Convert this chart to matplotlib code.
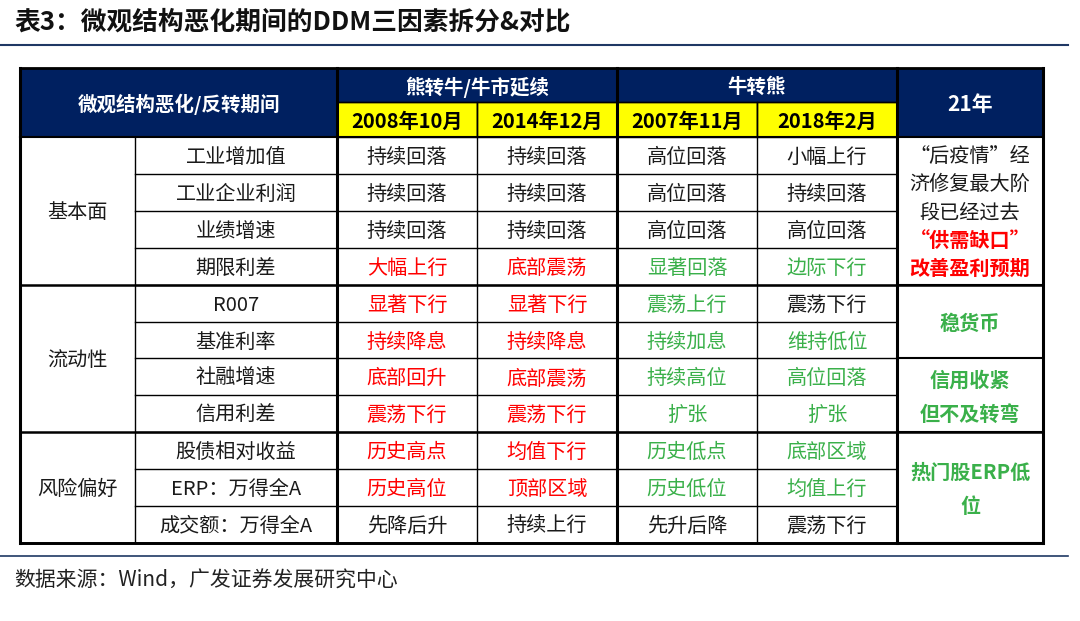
import matplotlib.pyplot as plt
from matplotlib.patches import Rectangle

plt.rcParams['font.family'] = ['Noto Sans CJK SC', 'DejaVu Sans']

title = "表3：微观结构恶化期间的DDM三因素拆分&对比"
source = "数据来源：Wind，广发证券发展研究中心"
corner = "微观结构恶化/反转期间"
phases = ["熊转牛/牛市延续", "牛转熊"]
periods = ["2008年10月", "2014年12月", "2007年11月", "2018年2月"]
last_head = "21年"

groups = ["基本面", "流动性", "风险偏好"]
group_sizes = [4, 4, 3]
items = ["工业增加值", "工业企业利润", "业绩增速", "期限利差",
         "R007", "基准利率", "社融增速", "信用利差",
         "股债相对收益", "ERP：万得全A", "成交额：万得全A"]
cells = [
    ["持续回落", "持续回落", "高位回落", "小幅上行"],
    ["持续回落", "持续回落", "高位回落", "持续回落"],
    ["持续回落", "持续回落", "高位回落", "高位回落"],
    ["大幅上行", "底部震荡", "显著回落", "边际下行"],
    ["显著下行", "显著下行", "震荡上行", "震荡下行"],
    ["持续降息", "持续降息", "持续加息", "维持低位"],
    ["底部回升", "底部震荡", "持续高位", "高位回落"],
    ["震荡下行", "震荡下行", "扩张", "扩张"],
    ["历史高点", "均值下行", "历史低点", "底部区域"],
    ["历史高位", "顶部区域", "历史低位", "均值上行"],
    ["先降后升", "持续上行", "先升后降", "震荡下行"],
]
# k = black, r = red, g = green
cell_colors = [
    "kkkk", "kkkk", "kkkk", "rrgg",
    "rrgk", "rrgg", "rrgg", "rrgg",
    "rrgg", "rrgg", "kkkk",
]
# merged cells of the last column: (first row, n rows, lines with colours, bold)
notes = [
    (0, 4, [("“后疫情”经", "k"), ("济修复最大阶", "k"), ("段已经过去", "k"),
            ("“供需缺口”", "r"), ("改善盈利预期", "r")], False),
    (4, 2, [("稳货币", "g")], True),
    (6, 2, [("信用收紧", "g"), ("但不及转弯", "g")], True),
    (8, 3, [("热门股ERP低", "g"), ("位", "g")], True),
]

NAVY = "#002060"
YELLOW = "#FFFF00"
CMAP = {"k": "#1a1a1a", "r": "#FF0000", "g": "#3AB04A"}
FS = 14.5
DY = 2

fig = plt.figure(figsize=(10.8, 6.21), dpi=100)
ax = fig.add_axes([0, 0, 1, 1])
ax.set_xlim(0, 1080)
ax.set_ylim(621, 0)
ax.axis("off")

ax.text(14, 22, title, fontsize=18.5, fontweight="bold", va="center", color="#111111")
ax.plot([0, 1068], [45, 45], color="#1F3864", lw=1.5)

cols = [20, 135, 337, 477, 617, 757, 897, 1043]
h0, h1, h2 = 68, 102, 137
rh = (543 - h2) / len(items)
rows = [h2 + i * rh for i in range(len(items) + 1)]

# header
ax.add_patch(Rectangle((cols[0], h0), cols[-1] - cols[0], h2 - h0, color=NAVY, lw=0))
for j in range(4):
    ax.add_patch(Rectangle((cols[2 + j], h1), cols[3 + j] - cols[2 + j], h2 - h1,
                           facecolor=YELLOW, edgecolor="black", lw=1))
    ax.text((cols[2 + j] + cols[3 + j]) / 2, (h1 + h2) / 2 + DY, periods[j],
            fontsize=14.5, fontweight="bold", ha="center", va="center")
ax.text((cols[0] + cols[2]) / 2, (h0 + h2) / 2 + DY, corner, fontsize=14,
        fontweight="bold", color="white", ha="center", va="center")
for k, p in enumerate(phases):
    ax.text((cols[2 + 2 * k] + cols[4 + 2 * k]) / 2, (h0 + h1) / 2 + DY, p, fontsize=14,
            fontweight="bold", color="white", ha="center", va="center")
ax.text((cols[6] + cols[7]) / 2, (h0 + h2) / 2 + DY, last_head, fontsize=15,
        fontweight="bold", color="white", ha="center", va="center")

# body
for i, name in enumerate(items):
    yc = (rows[i] + rows[i + 1]) / 2 + DY
    ax.plot([cols[1], cols[6]], [rows[i + 1], rows[i + 1]], color="black", lw=1)
    ax.text((cols[1] + cols[2]) / 2, yc, name, fontsize=FS, ha="center", va="center",
            color="#1a1a1a")
    for j in range(4):
        ax.text((cols[2 + j] + cols[3 + j]) / 2, yc, cells[i][j], fontsize=FS,
                ha="center", va="center", color=CMAP[cell_colors[i][j]])

start = 0
for g, n in zip(groups, group_sizes):
    ax.text((cols[0] + cols[1]) / 2, (rows[start] + rows[start + n]) / 2 + DY, g,
            fontsize=FS, ha="center", va="center", color="#1a1a1a")
    start += n
    ax.plot([cols[0], cols[-1]], [rows[start], rows[start]], color="black", lw=1.8)

for r0, n, lines, bold in notes:
    top, bot = rows[r0], rows[r0 + n]
    ax.plot([cols[6], cols[7]], [bot, bot], color="black", lw=1.5)
    step = 28 if len(lines) > 2 else 34
    y0 = (top + bot) / 2 - step * (len(lines) - 1) / 2 + DY
    for k, (txt, c) in enumerate(lines):
        ax.text((cols[6] + cols[7]) / 2, y0 + k * step, txt, fontsize=FS,
                fontweight="bold" if (bold or c == "r") else "normal",
                ha="center", va="center", color=CMAP[c])

# grid lines
ax.plot([cols[2], cols[6]], [h1, h1], color="black", lw=1)
for j, x in enumerate(cols):
    thick = x in (cols[0], cols[2], cols[4], cols[6], cols[7])
    ytop = h0 if thick else h1
    if x == cols[1]:
        ytop = h2
    ax.plot([x, x], [ytop, rows[-1]], color="black", lw=2.2 if thick else 1)
ax.plot([cols[0], cols[-1]], [h0, h0], color="black", lw=2)
ax.plot([cols[0], cols[-1]], [h2, h2], color="black", lw=1.5)
ax.plot([cols[0], cols[-1]], [rows[-1], rows[-1]], color="black", lw=2)

ax.plot([0, 1068], [556, 556], color="#1F3864", lw=1.2)
ax.text(14, 581, source, fontsize=15, va="center", color="#222222")

fig.savefig("out.png", dpi=100)
